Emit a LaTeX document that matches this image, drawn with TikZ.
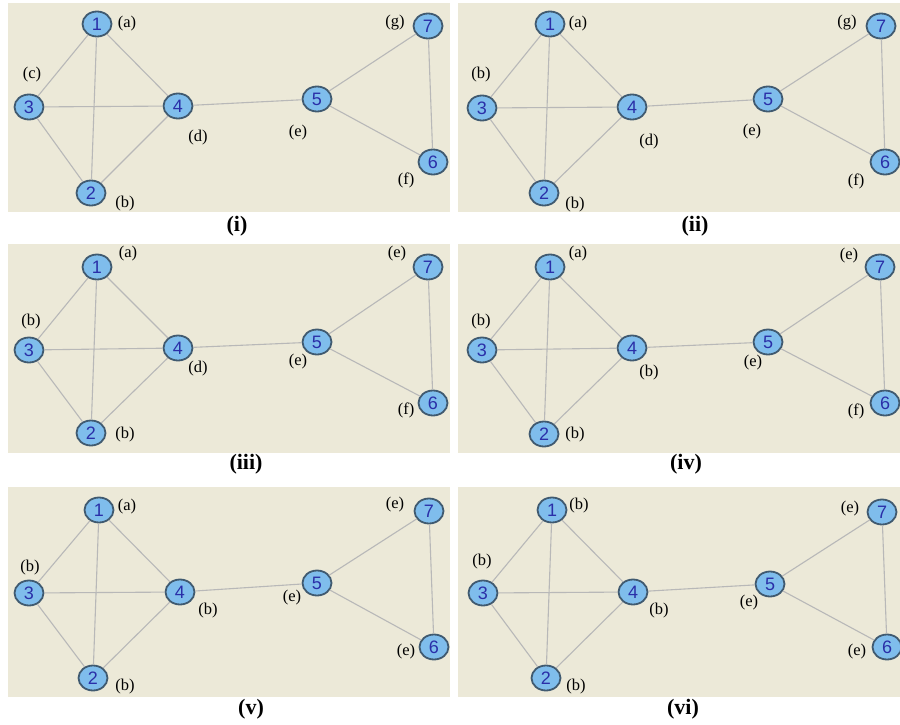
\documentclass[tikz,border=0pt]{standalone}
\usepackage{fontspec}
\usetikzlibrary{shapes.geometric}
\setmainfont{Liberation Serif}
\newfontfamily\numfont{Liberation Sans}
\definecolor{panelbg}{HTML}{ECE9D8}
\definecolor{nodefill}{HTML}{7FBDEC}
\definecolor{nodeline}{HTML}{405A70}
\definecolor{numcol}{HTML}{2A2FA8}
\definecolor{edgecol}{HTML}{B8B8B8}
\tikzset{
  vtx/.style={ellipse, fill=nodefill, draw=nodeline, line width=1.8pt, inner sep=0pt,
    minimum width=29pt, minimum height=25pt, text=numcol, font=\numfont\fontsize{18}{18}\selectfont},
  lbl/.style={font=\fontsize{16.5}{17}\selectfont, inner sep=0pt},
  captxt/.style={font=\bfseries\fontsize{22}{23}\selectfont, inner sep=0pt},
  edg/.style={draw=edgecol, line width=1.1pt},
  bg/.style={fill=panelbg, draw=none}
}
\begin{document}
\begin{tikzpicture}[x=1pt, y=-1pt]
\useasboundingbox (0,0) rectangle (900,725);
\fill[white] (0,0) rectangle (900,725);
% backgrounds
\path[bg] (8,3) rectangle (450,212);
\path[bg] (458,3) rectangle (900,212);
\path[bg] (8,244) rectangle (450,453);
\path[bg] (458,244) rectangle (900,453);
\path[bg] (8,487) rectangle (450,697);
\path[bg] (458,487) rectangle (900,697);

% ---------- panel (i)
\node[vtx] (A1) at (97,24) {1};
\node[vtx] (A2) at (91,193) {2};
\node[vtx] (A3) at (29,107) {3};
\node[vtx] (A4) at (178,106) {4};
\node[vtx] (A5) at (317,99) {5};
\node[vtx] (A6) at (433,162) {6};
\node[vtx] (A7) at (428,26) {7};
\node[lbl] (Aa) at (127,24) {(a)};
\node[lbl] (Ab) at (125,204) {(b)};
\node[lbl] (Ac) at (32,75) {(c)};
\node[lbl] (Ad) at (198,138) {(d)};
\node[lbl] (Ae) at (298,133) {(e)};
\node[lbl] (Af) at (406,180) {(f)};
\node[lbl] (Ag) at (395,23) {(g)};
\node[captxt] (Acap) at (237,226) {(i)};
\draw[edg] (A1)--(A3) (A1)--(A2) (A1)--(A4) (A3)--(A4) (A3)--(A2) (A2)--(A4)
  (A4)--(A5) (A5)--(A7) (A5)--(A6) (A7)--(A6);

% ---------- panel (ii)
\node[vtx] (B1) at (550,24) {1};
\node[vtx] (B2) at (544,193) {2};
\node[vtx] (B3) at (482,108) {3};
\node[vtx] (B4) at (632,107) {4};
\node[vtx] (B5) at (768,99) {5};
\node[vtx] (B6) at (885,162) {6};
\node[vtx] (B7) at (881,26) {7};
\node[lbl] (Ba) at (578,24) {(a)};
\node[lbl] (Bb) at (575,205) {(b)};
\node[lbl] (Bc) at (481,75) {(b)};
\node[lbl] (Bd) at (649,142) {(d)};
\node[lbl] (Be) at (752,132) {(e)};
\node[lbl] (Bf) at (856,181) {(f)};
\node[lbl] (Bg) at (847,23) {(g)};
\node[captxt] (Bcap) at (695,226) {(ii)};
\draw[edg] (B1)--(B3) (B1)--(B2) (B1)--(B4) (B3)--(B4) (B3)--(B2) (B2)--(B4)
  (B4)--(B5) (B5)--(B7) (B5)--(B6) (B7)--(B6);

% ---------- panel (iii)
\node[vtx] (C1) at (97,267) {1};
\node[vtx] (C2) at (91,433) {2};
\node[vtx] (C3) at (29,350) {3};
\node[vtx] (C4) at (178,348) {4};
\node[vtx] (C5) at (317,342) {5};
\node[vtx] (C6) at (433,403) {6};
\node[vtx] (C7) at (428,267) {7};
\node[lbl] (Ca) at (128,254) {(a)};
\node[lbl] (Cb) at (125,435) {(b)};
\node[lbl] (Cc) at (31,322) {(b)};
\node[lbl] (Cd) at (198,369) {(d)};
\node[lbl] (Ce) at (298,362) {(e)};
\node[lbl] (Cf) at (406,410) {(f)};
\node[lbl] (Cg) at (397,254) {(e)};
\node[captxt] (Ccap) at (246,464) {(iii)};
\draw[edg] (C1)--(C3) (C1)--(C2) (C1)--(C4) (C3)--(C4) (C3)--(C2) (C2)--(C4)
  (C4)--(C5) (C5)--(C7) (C5)--(C6) (C7)--(C6);

% ---------- panel (iv)
\node[vtx] (D1) at (550,267) {1};
\node[vtx] (D2) at (544,434) {2};
\node[vtx] (D3) at (482,350) {3};
\node[vtx] (D4) at (632,348) {4};
\node[vtx] (D5) at (768,342) {5};
\node[vtx] (D6) at (885,403) {6};
\node[vtx] (D7) at (880,267) {7};
\node[lbl] (Da) at (578,254) {(a)};
\node[lbl] (Db) at (575,435) {(b)};
\node[lbl] (Dc) at (481,322) {(b)};
\node[lbl] (Dd) at (649,373) {(b)};
\node[lbl] (De) at (753,363) {(e)};
\node[lbl] (Df) at (856,411) {(f)};
\node[lbl] (Dg) at (849,256) {(e)};
\node[captxt] (Dcap) at (686,464) {(iv)};
\draw[edg] (D1)--(D3) (D1)--(D2) (D1)--(D4) (D3)--(D4) (D3)--(D2) (D2)--(D4)
  (D4)--(D5) (D5)--(D7) (D5)--(D6) (D7)--(D6);

% ---------- panel (v)
\node[vtx] (E1) at (99,510) {1};
\node[vtx] (E2) at (93,678) {2};
\node[vtx] (E3) at (29,593) {3};
\node[vtx] (E4) at (180,592) {4};
\node[vtx] (E5) at (317,583) {5};
\node[vtx] (E6) at (434,647) {6};
\node[vtx] (E7) at (429,511) {7};
\node[lbl] (Ea) at (127,507) {(a)};
\node[lbl] (Eb) at (125,687) {(b)};
\node[lbl] (Ec) at (30,568) {(b)};
\node[lbl] (Ed) at (208,611) {(b)};
\node[lbl] (Ee) at (292,598) {(e)};
\node[lbl] (Ef) at (406,652) {(e)};
\node[lbl] (Eg) at (395,505) {(e)};
\node[captxt] (Ecap) at (251,709) {(v)};
\draw[edg] (E1)--(E3) (E1)--(E2) (E1)--(E4) (E3)--(E4) (E3)--(E2) (E2)--(E4)
  (E4)--(E5) (E5)--(E7) (E5)--(E6) (E7)--(E6);

% ---------- panel (vi)
\node[vtx] (F1) at (552,510) {1};
\node[vtx] (F2) at (546,678) {2};
\node[vtx] (F3) at (483,593) {3};
\node[vtx] (F4) at (633,592) {4};
\node[vtx] (F5) at (770,584) {5};
\node[vtx] (F6) at (887,647) {6};
\node[vtx] (F7) at (882,512) {7};
\node[lbl] (Fa) at (579,506) {(b)};
\node[lbl] (Fb) at (576,687) {(b)};
\node[lbl] (Fc) at (482,562) {(b)};
\node[lbl] (Fd) at (659,611) {(b)};
\node[lbl] (Fe) at (749,603) {(e)};
\node[lbl] (Ff) at (857,652) {(e)};
\node[lbl] (Fg) at (850,509) {(e)};
\node[captxt] (Fcap) at (683,709) {(vi)};
\draw[edg] (F1)--(F3) (F1)--(F2) (F1)--(F4) (F3)--(F4) (F3)--(F2) (F2)--(F4)
  (F4)--(F5) (F5)--(F7) (F5)--(F6) (F7)--(F6);
\end{tikzpicture}
\end{document}
